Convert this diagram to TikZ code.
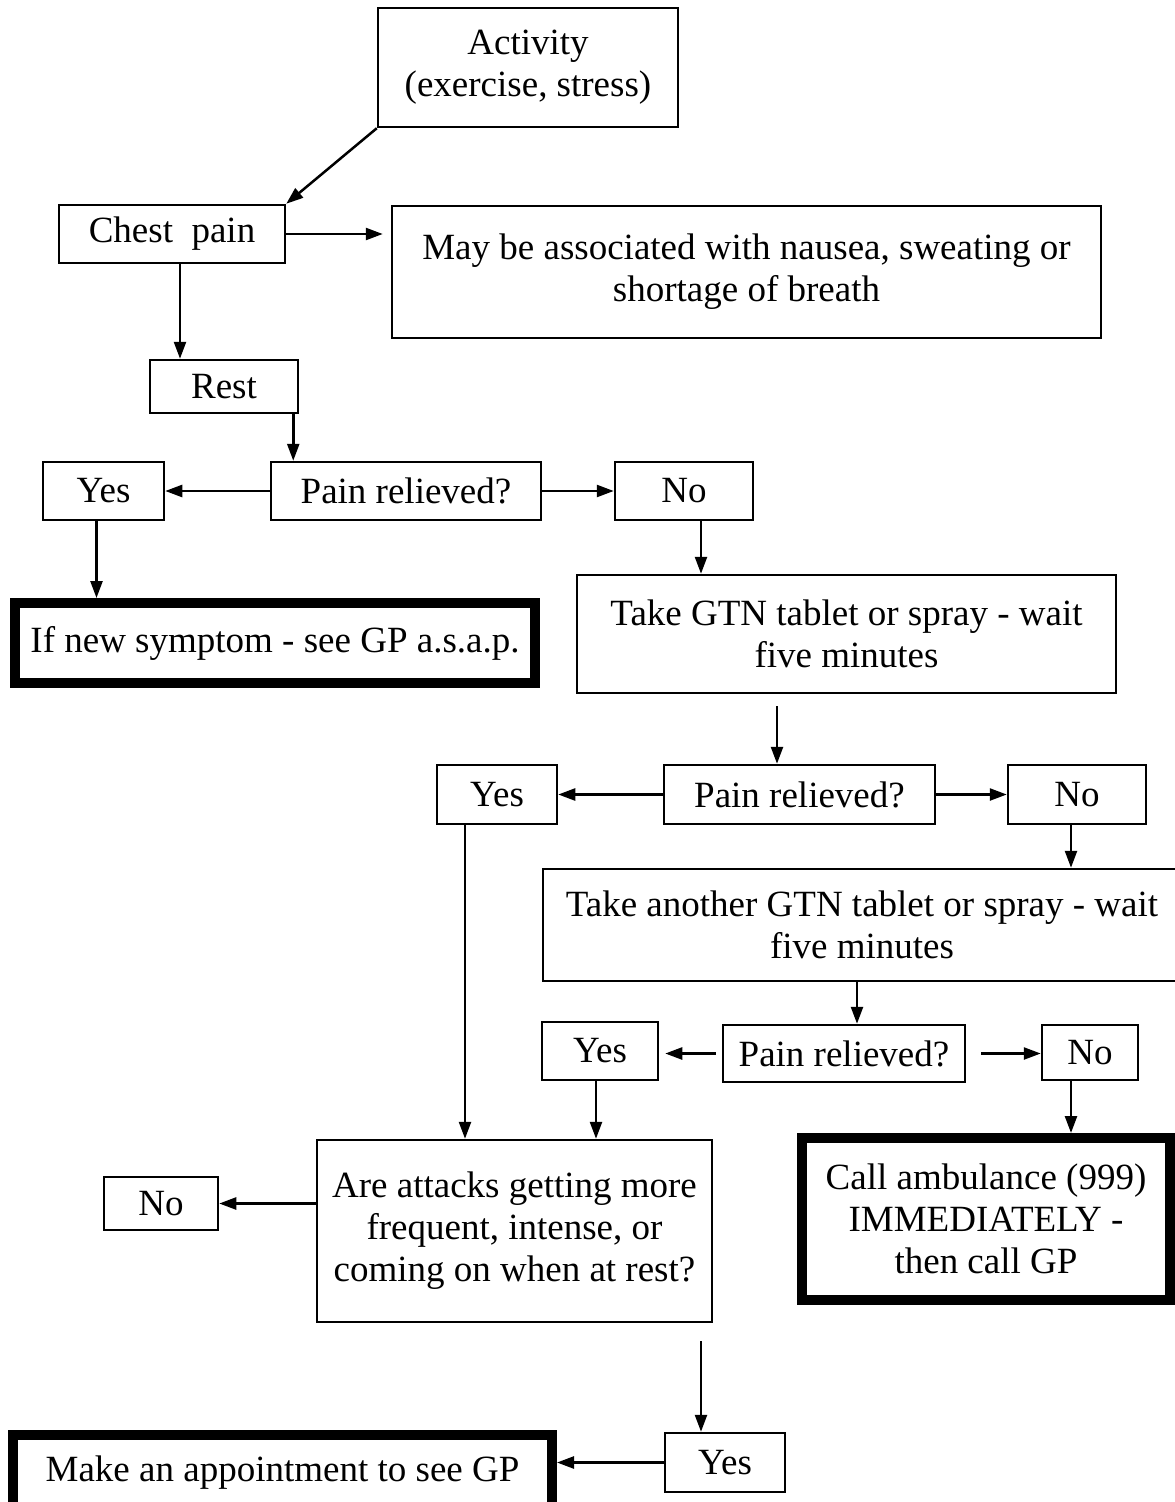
\documentclass[tikz,border=0pt]{standalone}
\usepackage{fontspec}
\setmainfont{Liberation Serif}
\usetikzlibrary{arrows.meta}
\tikzset{
  box/.style={draw, line width=2.5pt, align=center, inner sep=0pt,
    font=\fontsize{37}{42}\selectfont},
  endbox/.style={box, line width=10pt},
  arr/.style={-{Triangle[length=17pt,width=12pt]}, line width=2.5pt}
}

\begin{document}
\begin{tikzpicture}[x=1pt,y=-1pt]
\useasboundingbox (0,0) rectangle (1175,1502);
% first steps
\node[box,minimum width=300pt,minimum height=119pt] (activity) at (528,67.5) {Activity\\(exercise, stress)};
\node[box,minimum width=226pt,minimum height=58pt] (chest) at (172,234) {Chest~ pain};
\node[box,minimum width=709pt,minimum height=132pt] (assoc) at (746.5,272) {May be associated with nausea, sweating or\\shortage of breath};
\node[box,minimum width=148pt,minimum height=53pt] (rest) at (224,386.5) {Rest};
\node[box,minimum width=270pt,minimum height=58pt] (pr1) at (406,491) {Pain relieved?};
\node[box,minimum width=121pt,minimum height=58pt] (yes1) at (103.5,491) {Yes};
\node[box,minimum width=138pt,minimum height=58pt] (no1) at (684,491) {No};
\node[endbox,minimum width=520pt,minimum height=80pt] (newsym) at (275,643) {If new symptom - see GP a.s.a.p.};
% GTN
\node[box,minimum width=539pt,minimum height=118pt] (gtn1) at (846.5,634) {Take GTN tablet or spray - wait\\five minutes};
\node[box,minimum width=271pt,minimum height=59pt] (pr2) at (799.5,794.5) {Pain relieved?};
\node[box,minimum width=120pt,minimum height=59pt] (yes2) at (497,794.5) {Yes};
\node[box,minimum width=138pt,minimum height=59pt] (no2) at (1077,794.5) {No};
\node[box,minimum width=638pt,minimum height=112pt] (gtn2) at (862,925) {Take another GTN tablet or spray - wait\\five minutes};
\node[box,minimum width=242pt,minimum height=57pt] (pr3) at (844,1053.5) {Pain relieved?};
\node[box,minimum width=116pt,minimum height=58pt] (yes3) at (600,1051) {Yes};
\node[box,minimum width=96pt,minimum height=55pt] (no3) at (1090,1052.5) {No};
% last steps
\node[box,minimum width=395pt,minimum height=182pt] (attacks) at (514.5,1231) {Are attacks getting more\\frequent, intense, or\\coming on when at rest?};
\node[box,minimum width=114pt,minimum height=53pt] (no5) at (161,1203.5) {No};
\node[endbox,minimum width=368pt,minimum height=162pt] (ambul) at (986,1219) {Call ambulance (999)\\IMMEDIATELY -\\then call GP};
\node[box,minimum width=120pt,minimum height=59pt] (yes4) at (725,1462.5) {Yes};
\node[endbox,minimum width=539pt,minimum height=75pt] (appt) at (282.5,1472.5) {Make an appointment to see GP};

\draw[arr] (activity.south west) -- (chest.north east);
\draw[arr,shorten >=8pt] (chest.east) -- (chest.east -| assoc.west);
\draw[arr] ([xshift=8]chest.south) -- ([xshift=8]chest.south |- rest.north);
\draw[arr] ([xshift=-6]rest.south east) -- ([xshift=-6]rest.south east |- pr1.north);
\draw[arr] (pr1.west) -- (yes1.east);
\draw[arr] (pr1.east) -- (no1.west);
\draw[arr] ([xshift=-7]yes1.south) -- ([xshift=-7]yes1.south |- newsym.north);
\draw[arr] ([xshift=17]no1.south) -- ([xshift=17]no1.south |- gtn1.north);
\draw[arr,shorten <=12pt] ([xshift=-22.5]pr2.north |- gtn1.south) -- ([xshift=-22.5]pr2.north);
\draw[arr] (pr2.west) -- (yes2.east);
\draw[arr] (pr2.east) -- (no2.west);
\draw[arr] ([xshift=-6]no2.south) -- ([xshift=-6]no2.south |- gtn2.north);
\draw[arr] ([xshift=13]pr3.north |- gtn2.south) -- ([xshift=13]pr3.north);
\draw[arr,shorten <=6pt,shorten >=6pt] (pr3.west) -- (pr3.west -| yes3.east);
\draw[arr,shorten <=15pt] (pr3.east) -- (pr3.east -| no3.west);
\draw[arr] ([xshift=-32]yes2.south) -- ([xshift=-32]yes2.south |- attacks.north);
\draw[arr] ([xshift=-4]yes3.south) -- ([xshift=-4]yes3.south |- attacks.north);
\draw[arr] ([xshift=-19]no3.south) -- ([xshift=-19]no3.south |- ambul.north);
\draw[arr] (attacks.west |- no5.east) -- (no5.east);
\draw[arr,shorten <=18pt] ([xshift=-24]yes4.north |- attacks.south) -- ([xshift=-24]yes4.north);
\draw[arr] (yes4.west) -- (yes4.west -| appt.east);
\end{tikzpicture}
\end{document}
